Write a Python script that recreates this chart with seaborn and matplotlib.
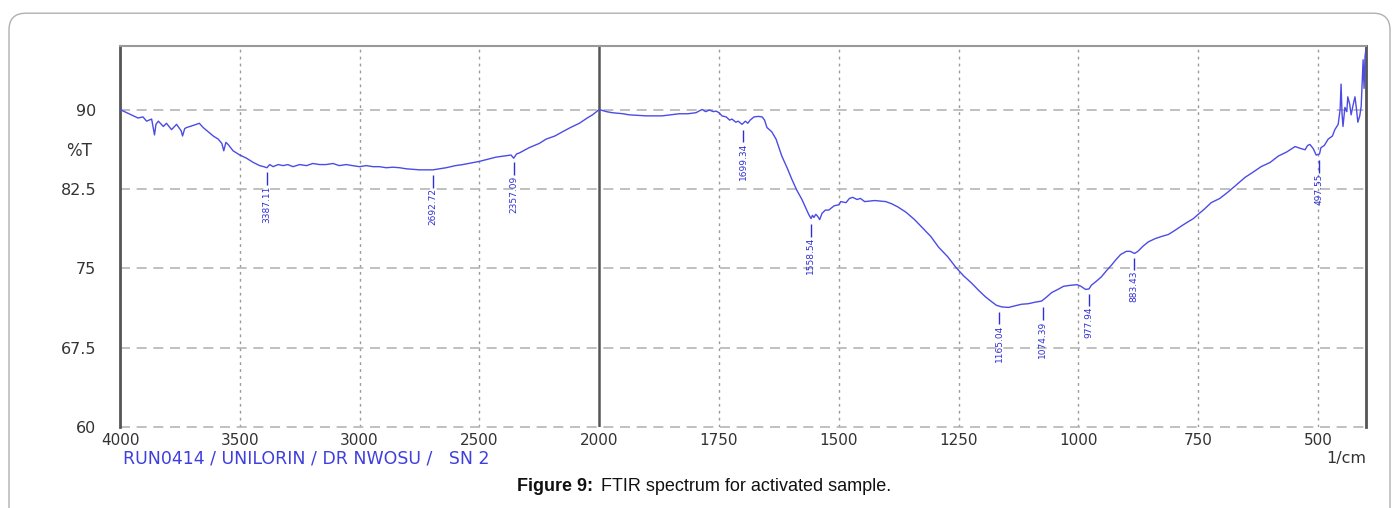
import numpy as np
import pandas as pd
import matplotlib
matplotlib.use('Agg')
import matplotlib.pyplot as plt
import seaborn as sns
from matplotlib.ticker import FixedLocator, MultipleLocator, FuncFormatter
from matplotlib.patches import FancyBboxPatch

""" Data (read off the spectrum) """
wavenumber = [
    4000, 3972, 3944, 3925, 3904, 3889, 3868, 3856, 3850, 3840, 3819, 3806, 3785, 3764, 3745,
    3739, 3730, 3722, 3694, 3669, 3653, 3632, 3611, 3590, 3575, 3567, 3558, 3549, 3528, 3500,
    3472, 3444, 3417, 3400, 3387, 3375, 3361, 3340, 3319, 3300, 3278, 3250, 3222, 3195, 3167,
    3140, 3111, 3085, 3056, 3030, 3000, 2972, 2944, 2917, 2889, 2861, 2833, 2806, 2778, 2750,
    2722, 2694, 2667, 2639, 2600, 2569, 2535, 2500, 2465, 2431, 2400, 2368, 2357, 2345, 2333,
    2292, 2250, 2222, 2185, 2153, 2120, 2083, 2050, 2028, 2000,
    1985, 1973, 1950, 1938, 1920, 1902, 1885, 1869, 1850, 1833, 1815, 1798, 1790, 1785, 1778,
    1770, 1762, 1756, 1750, 1744, 1735, 1728, 1723, 1715, 1710, 1702, 1695, 1690, 1685, 1677,
    1668, 1660, 1655, 1650, 1640, 1631, 1619, 1608, 1598, 1588, 1577, 1568, 1563, 1558, 1555,
    1552, 1548, 1544, 1540, 1535, 1528, 1521, 1510, 1500, 1496, 1485, 1478, 1471, 1462, 1455,
    1446, 1425, 1402, 1390, 1377, 1360, 1342, 1325, 1308, 1292, 1273, 1256, 1240, 1223, 1208,
    1194, 1180, 1171, 1160, 1146, 1132, 1119, 1105, 1090, 1077, 1066, 1056, 1043, 1031, 1015,
    1003, 995, 985, 978, 973, 962, 952, 941, 931, 922, 912, 900, 892, 883, 876,
    865, 854, 840, 827, 812, 798, 785, 771, 760, 750, 737, 723, 705, 688, 670,
    652, 635, 619, 600, 583, 565, 548, 535, 527, 522, 517, 510, 504, 497, 494,
    487, 479, 470, 465, 458, 454, 452, 450, 448, 444, 440, 438, 434, 431, 427,
    423, 420, 417, 413, 410, 406, 404, 402, 400,
]
transmittance = [
    90.0, 89.7, 89.4, 89.2, 89.3, 88.9, 89.1, 87.6, 88.6, 88.9, 88.4, 88.7, 88.1, 88.6, 88.0,
    87.5, 88.2, 88.3, 88.5, 88.7, 88.3, 87.9, 87.5, 87.2, 86.8, 86.1, 86.9, 86.7, 86.1, 85.7,
    85.4, 85.0, 84.7, 84.6, 84.5, 84.8, 84.6, 84.8, 84.7, 84.8, 84.6, 84.8, 84.7, 84.9, 84.8,
    84.8, 84.9, 84.7, 84.8, 84.7, 84.6, 84.7, 84.6, 84.6, 84.5, 84.55, 84.5, 84.4, 84.35, 84.3,
    84.3, 84.3, 84.4, 84.5, 84.7, 84.8, 84.95, 85.1, 85.3, 85.5, 85.6, 85.7, 85.4, 85.8, 85.9,
    86.4, 86.8, 87.2, 87.5, 87.9, 88.3, 88.7, 89.2, 89.5, 90.0,
    89.8, 89.7, 89.6, 89.5, 89.45, 89.4, 89.4, 89.4, 89.5, 89.6, 89.6, 89.7, 89.9, 90.0, 89.8,
    89.95, 89.8, 89.85, 89.7, 89.4, 89.3, 89.0, 89.1, 88.8, 88.9, 88.6, 88.9, 88.7, 89.0, 89.3,
    89.35, 89.3, 89.0, 88.3, 87.9, 87.2, 85.6, 84.5, 83.4, 82.4, 81.5, 80.6, 80.1, 79.7, 80.0,
    79.8, 80.1, 79.9, 79.6, 80.2, 80.5, 80.5, 80.9, 81.0, 81.3, 81.2, 81.6, 81.7, 81.5, 81.6,
    81.3, 81.4, 81.3, 81.1, 80.8, 80.3, 79.6, 78.8, 78.0, 77.0, 76.1, 75.1, 74.3, 73.6, 72.9,
    72.3, 71.8, 71.5, 71.35, 71.3, 71.45, 71.6, 71.65, 71.8, 71.9, 72.3, 72.7, 73.0, 73.3, 73.4,
    73.45, 73.3, 73.0, 73.05, 73.4, 73.8, 74.2, 74.8, 75.3, 75.8, 76.3, 76.6, 76.6, 76.4, 76.6,
    77.1, 77.5, 77.8, 78.0, 78.2, 78.6, 79.0, 79.4, 79.7, 80.1, 80.6, 81.2, 81.6, 82.2, 82.9,
    83.6, 84.1, 84.6, 85.0, 85.6, 86.0, 86.5, 86.3, 86.2, 86.6, 86.7, 86.3, 85.7, 85.8, 86.4,
    86.6, 87.2, 87.5, 88.1, 88.6, 90.0, 92.4, 89.6, 88.4, 90.2, 89.8, 91.2, 90.5, 89.5, 90.4,
    91.2, 90.1, 88.8, 89.4, 90.3, 94.7, 92.0, 95.0, 95.8,
]

peak_wn = [3387.11, 2692.72, 2357.09, 1699.34, 1558.54, 1165.04, 1074.39, 977.94, 883.43, 497.55]
peak_t = [84.6, 84.3, 85.5, 88.6, 79.7, 71.4, 71.8, 73.1, 76.5, 85.7]
peak_labels = ['3387.11', '2692.72', '2357.09', '1699.34', '1558.54',
               '1165.04', '1074.39', '977.94', '883.43', '497.55']

xtick_values = [4000, 3500, 3000, 2500, 2000, 1750, 1500, 1250, 1000, 750, 500]

spec = pd.DataFrame({'wavenumber': wavenumber, 'transmittance': transmittance})

""" Style """
sns.set_style('white')
plt.rcParams['font.family'] = ['DejaVu Sans']

line_blue = '#4b4be6'
label_blue = '#2f2fd6'


# scale: above 2000 1/cm is compressed by a factor of two (as on the instrument printout)
def fwd(x):
    x = np.asarray(x, dtype=float)
    return np.where(x <= 2000, x, 2000 + (x - 2000) / 2.0)


def inv(y):
    y = np.asarray(y, dtype=float)
    return np.where(y <= 2000, y, 2000 + (y - 2000) * 2.0)


fig = plt.figure(figsize=(13.97, 5.08), dpi=100)
ax = fig.add_axes([0.0859, 0.1594, 0.8919, 0.750])

sns.lineplot(data=spec, x='wavenumber', y='transmittance', ax=ax, color=line_blue,
             linewidth=1.0, sort=False, estimator=None, zorder=5)

ax.set_xscale('function', functions=(fwd, inv))
ax.set_xlim(4000, 400)
ax.set_ylim(60, 96)
ax.set_xlabel('')
ax.set_ylabel('')

# ticks
ax.xaxis.set_major_locator(FixedLocator(xtick_values))
ax.xaxis.set_minor_locator(FixedLocator(list(range(4000, 2000, -100)) + list(range(2000, 399, -50))))
ax.xaxis.set_major_formatter(FuncFormatter(lambda v, p: f'{v:.0f}'))
ax.yaxis.set_major_locator(MultipleLocator(7.5))
ax.yaxis.set_minor_locator(MultipleLocator(1.5))
ax.yaxis.set_major_formatter(FuncFormatter(lambda v, p: f'{v:g}'))

ax.tick_params(axis='x', which='major', direction='inout', length=9, width=1.2,
               color='#555555', labelsize=11, labelcolor='#333333', pad=0)
ax.tick_params(axis='x', which='minor', direction='inout', length=6, width=1.2, color='#555555')
ax.tick_params(axis='y', which='major', direction='out', length=14, width=1.5,
               color='#777777', labelsize=11.5, labelcolor='#333333', pad=3)
ax.tick_params(axis='y', which='minor', direction='out', length=7, width=1.5, color='#777777')

# grid
ax.grid(False)
for v in xtick_values:
    if v != 2000:
        ax.axvline(v, color='#9a9a9a', linestyle=(0, (2, 3)), linewidth=1.0, zorder=1)
for v in [60, 67.5, 75, 82.5, 90]:
    ax.axhline(v, color='#b5b5b5', linestyle=(0, (6, 4)), linewidth=1.2, zorder=1, clip_on=False)
ax.axvline(2000, color='#555555', linewidth=1.8, zorder=2)

for side in ['left', 'right']:
    ax.spines[side].set_color('#555555')
    ax.spines[side].set_linewidth(2)
ax.spines['top'].set_color('#999999')
ax.spines['top'].set_linewidth(1.5)
ax.spines['bottom'].set_visible(False)

# peak labels
for wn, t, lab in zip(peak_wn, peak_t, peak_labels):
    ax.vlines(wn, t - 1.7, t - 0.5, color=label_blue, linewidth=1.0, zorder=6)
    ax.text(wn, t - 1.75, lab, rotation=90, ha='center', va='top', fontsize=6.5,
            color=label_blue, zorder=6)

# axis texts
fig.text(0.066, 0.703, '%T', ha='right', va='center', fontsize=12, color='#333333')
fig.text(0.9778, 0.098, '1/cm', ha='right', va='center', fontsize=11.5, color='#333333')
fig.text(0.088, 0.098, 'RUN0414 / UNILORIN / DR NWOSU /   SN 2', ha='left', va='center',
         fontsize=12.5, color='#3f3fe0')

# caption
fig.text(517 / 1397, 0.043, 'Figure 9:', ha='left', va='center', fontsize=13,
         fontweight='bold', family='Liberation Sans', color='#111111')
fig.text(601 / 1397, 0.043, 'FTIR spectrum for activated sample.', ha='left', va='center',
         fontsize=13, family='Liberation Sans', color='#111111')

# outer frame
frame = FancyBboxPatch((9 / 1397, -0.05), 1381 / 1397, 1.024, transform=fig.transFigure,
                       boxstyle='round,pad=0,rounding_size=0.012', facecolor='none',
                       edgecolor='#b0b0b0', linewidth=1.0, mutation_aspect=2.75)
fig.patches.append(frame)

plt.savefig('out.png', dpi=100)
